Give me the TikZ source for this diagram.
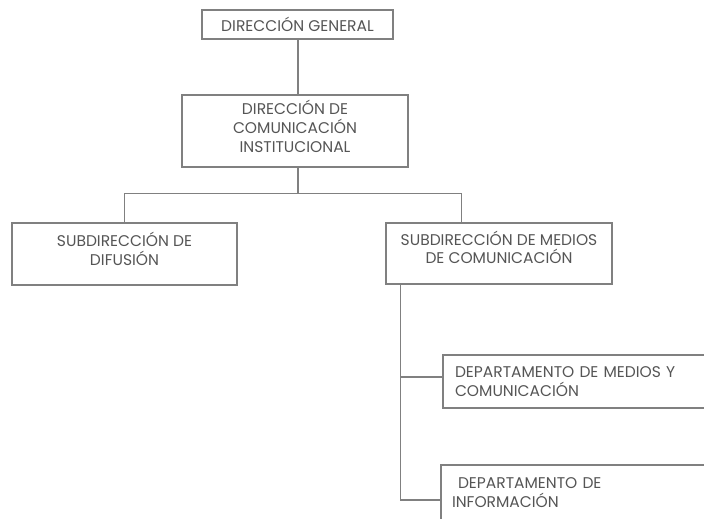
\documentclass[tikz,border=0pt]{standalone}
\usepackage{fontspec}
\setmainfont{Poppins}
\usetikzlibrary{calc}

\definecolor{linegray}{HTML}{808080}
\definecolor{textgray}{HTML}{555555}

\begin{document}
\begin{tikzpicture}[x=1pt,y=-1pt,
	box/.style={draw=linegray,line width=1.1pt,fill=white,text=textgray,
		font=\fontsize{15.5}{19}\selectfont,align=center,inner sep=0pt},
	leftbox/.style={box,align=left,inner xsep=12pt},
	conn/.style={draw=linegray,line width=1.1pt}]

	% fix the size of the picture
	\useasboundingbox (0,0) rectangle (704,519);
	\clip (0,0) rectangle (704,519);

	% top of the chart
	\node[box,minimum width=191,minimum height=29] (A) at (297.5,24.5) {DIRECCIÓN GENERAL};
	\node[box,minimum width=226,minimum height=72] (B) at (295,131) {DIRECCIÓN DE\\COMUNICACIÓN\\INSTITUCIONAL\\[-9pt]};

	% the two subdirections
	\node[box,minimum width=225,minimum height=62] (C) at (124.5,254) {SUBDIRECCIÓN DE\\DIFUSIÓN\\[-8pt]};
	\node[box,minimum width=226,minimum height=61] (D) at (499,253.5) {SUBDIRECCIÓN DE MEDIOS\\[-1pt]DE COMUNICACIÓN\\[-6pt]};

	% departments, cut by the right and bottom edge
	\node[leftbox,minimum width=277,minimum height=53,text width=253] (E) at (581.5,381.5) {DEPARTAMENTO DE MEDIOS Y\\COMUNICACIÓN};
	\node[leftbox,inner xsep=11pt,minimum width=280,minimum height=55,text width=258] (F) at (581,492.5) {\hspace*{6pt}DEPARTAMENTO DE\\INFORMACIÓN};

	% define the coordinates of the branching points
	\coordinate (G) at ($(B.south)+(3,26)$);
	\coordinate (H) at ($(D.south west)+(15,0)$);

	% draw the connectors
	\draw[conn] (A.south -| G) -- (B.north -| G);
	\draw[conn] (B.south -| G) -- (G);
	\draw[conn] (C.north) |- (G) -| ($(D.north west)+(76,0)$);
	\draw[conn] (H) |- ([yshift=-7.5]F.west);
	\draw[conn] ([yshift=4.5]E.west) -- ([yshift=4.5]E.west -| H);

\end{tikzpicture}
\end{document}
